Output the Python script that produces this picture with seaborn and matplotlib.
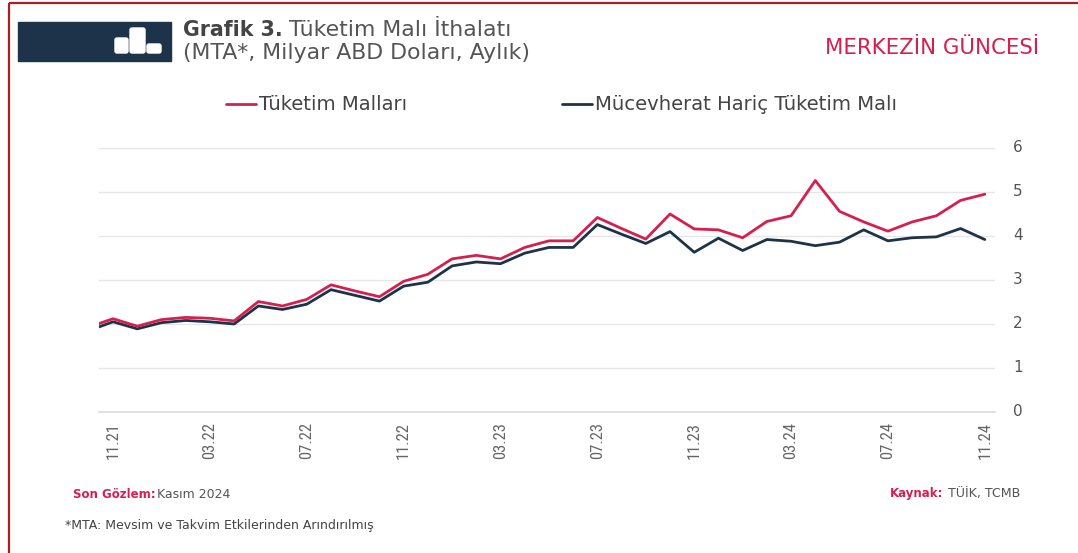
import pandas as pd
import seaborn as sns
import matplotlib.pyplot as plt
from matplotlib.patches import FancyBboxPatch, Rectangle
from matplotlib.transforms import ScaledTranslation

# monthly values, first point is cut by the axis edge
months = ['10.21', '11.21', '12.21', '01.22', '02.22', '03.22', '04.22', '05.22', '06.22', '07.22',
          '08.22', '09.22', '10.22', '11.22', '12.22', '01.23', '02.23', '03.23', '04.23', '05.23',
          '06.23', '07.23', '08.23', '09.23', '10.23', '11.23', '12.23', '01.24', '02.24', '03.24',
          '04.24', '05.24', '06.24', '07.24', '08.24', '09.24', '10.24', '11.24']
tuketim = [1.93, 2.12, 1.95, 2.10, 2.15, 2.13, 2.07, 2.51, 2.41, 2.56,
           2.89, 2.75, 2.62, 2.97, 3.13, 3.48, 3.56, 3.48, 3.74, 3.89,
           3.89, 4.42, 4.17, 3.93, 4.50, 4.16, 4.14, 3.96, 4.33, 4.46,
           5.26, 4.56, 4.32, 4.11, 4.32, 4.46, 4.81, 4.95]
mucevherat_haric = [1.85, 2.05, 1.89, 2.03, 2.08, 2.05, 2.00, 2.41, 2.33, 2.45,
                    2.78, 2.65, 2.52, 2.86, 2.95, 3.32, 3.41, 3.37, 3.61, 3.74,
                    3.74, 4.26, 4.04, 3.83, 4.10, 3.63, 3.95, 3.67, 3.92, 3.88,
                    3.78, 3.86, 4.14, 3.89, 3.96, 3.98, 4.17, 3.92]
y_ticks = [0, 1, 2, 3, 4, 5, 6]
x_tick_labels = ['11.21', '03.22', '07.22', '11.22', '03.23', '07.23', '11.23', '03.24', '07.24', '11.24']

RED = '#d5204f'
NAVY = '#1c3349'
GREY = '#555555'
W, H = 1078, 553

df = pd.DataFrame({'ay': months, 'Tüketim Malları': tuketim, 'Mücevherat Hariç Tüketim Malı': mucevherat_haric})
df['x'] = range(-1, len(months) - 1)
long_df = df.melt(id_vars=['ay', 'x'], var_name='seri', value_name='deger')

sns.set_theme(style='white')
plt.rcParams['font.family'] = ['DejaVu Sans']

fig = plt.figure(figsize=(W / 100, H / 100), dpi=100)
ax = fig.add_axes([99 / W, 1 - 412 / H, (995 - 99) / W, (412 - 148) / H])

sns.lineplot(data=long_df, x='x', y='deger', hue='seri', ax=ax, linewidth=2,
             palette={'Tüketim Malları': RED, 'Mücevherat Hariç Tüketim Malı': NAVY},
             hue_order=['Mücevherat Hariç Tüketim Malı', 'Tüketim Malları'])

ax.set_xlim(-0.58, 36.42)
ax.set_ylim(0, 6)
ax.set_xlabel('')
ax.set_ylabel('')
ax.yaxis.tick_right()
ax.set_yticks(y_ticks)
ax.tick_params(axis='y', length=0, pad=13, labelsize=11, labelcolor=GREY)
for lab in ax.get_yticklabels():
    lab.set_transform(lab.get_transform() + ScaledTranslation(0, 2 / 100, fig.dpi_scale_trans))
ax.set_xticks(df.loc[df['ay'].isin(x_tick_labels), 'x'])
ax.set_xticklabels(x_tick_labels, rotation=90, fontsize=12, color='#666666',
                   family=['Roboto Condensed', 'Open Sans Condensed', 'DejaVu Sans'])
ax.tick_params(axis='x', length=0, pad=7)
ax.grid(axis='y', color='#e6e6e6', linewidth=1)
ax.set_axisbelow(True)
sns.despine(ax=ax, left=True, right=True, top=True, bottom=False)
ax.spines['bottom'].set_color('#dddddd')

handles, labels = ax.get_legend_handles_labels()
leg = ax.legend(handles[::-1], labels[::-1], ncol=2, frameon=False, fontsize=14.1, labelcolor='#444444',
                loc='center left', bbox_to_anchor=((226 - 99) / (995 - 99), 1 + (148 - 105) / (412 - 148)),
                handlelength=1.53, handletextpad=0.15, columnspacing=7.9, borderpad=0, borderaxespad=0)

# frame and header
overlay = fig.add_axes([0, 0, 1, 1], zorder=-1)
overlay.set_xlim(0, W)
overlay.set_ylim(H, 0)
overlay.axis('off')
overlay.add_patch(Rectangle((8.5, 2.5), W + 20, H + 20, fill=False, edgecolor='#b01c20', linewidth=1.6))
overlay.add_patch(Rectangle((18, 22), 153, 39, color=NAVY))
for x0, y0, w, h in [(115, 38, 13, 15), (130, 28, 15, 25), (147, 44, 14, 9)]:
    overlay.add_patch(FancyBboxPatch((x0 + 2, y0 + 2), w - 4, h - 4, boxstyle='round,pad=2', color='white'))

fig.text(183 / W, 1 - 30 / H, 'Grafik 3.', fontsize=14.8, fontweight='bold', color='#444444', va='center')
fig.text(289 / W, 1 - 30 / H, 'Tüketim Malı İthalatı', fontsize=15.8, color='#555555', va='center')
fig.text(183 / W, 1 - 53 / H, '(MTA*, Milyar ABD Doları, Aylık)', fontsize=15.8, color='#555555', va='center')
fig.text(1039 / W, 1 - 48 / H, 'MERKEZİN GÜNCESİ', fontsize=15.3, color=RED, ha='right', va='center')

fig.text(73 / W, 1 - 494 / H, 'Son Gözlem:', fontsize=8.5, fontweight='bold', color=RED, va='center')
fig.text(157 / W, 1 - 494 / H, 'Kasım 2024', fontsize=9, color=GREY, va='center')
fig.text(890 / W, 1 - 494 / H, 'Kaynak:', fontsize=8.5, fontweight='bold', color=RED, va='center')
fig.text(948 / W, 1 - 494 / H, 'TÜİK, TCMB', fontsize=9.1, color=GREY, va='center')
fig.text(65 / W, 1 - 526 / H, '*MTA: Mevsim ve Takvim Etkilerinden Arındırılmış', fontsize=9, color='#444444', va='center')

fig.savefig('out.png', dpi=100, facecolor='white')
